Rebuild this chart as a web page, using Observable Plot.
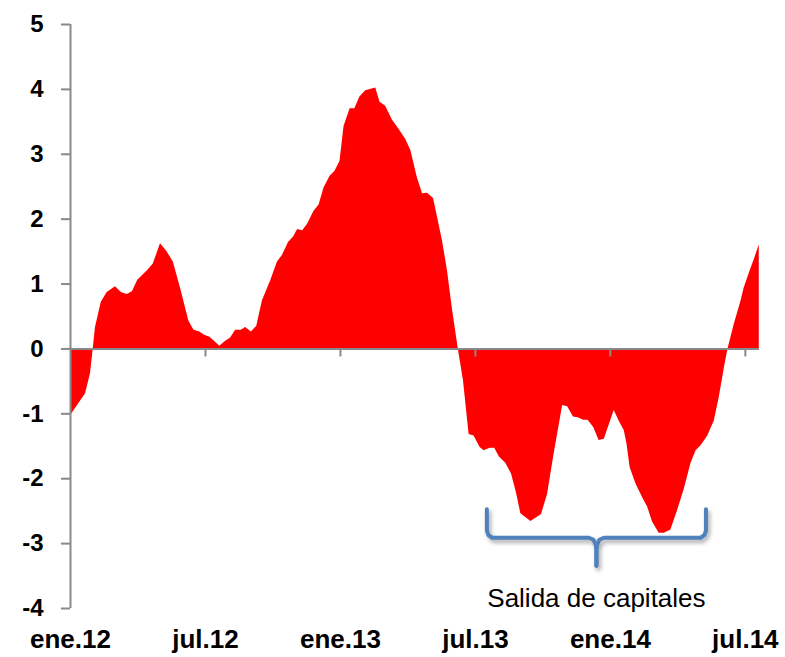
<!DOCTYPE html>
<html>
<head>
<meta charset="utf-8">
<script src="https://cdn.jsdelivr.net/npm/d3@7"></script>
<script src="https://cdn.jsdelivr.net/npm/@observablehq/plot@0.6"></script>
<style>
  html, body { margin: 0; padding: 0; background: #ffffff; }
  #chart { width: 785px; height: 657px; }
</style>
</head>
<body>
<div id="chart"></div>
<script>
// Meses desde ene.12
const meses = [0, 0.67, 0.89, 1.01, 1.11, 1.37, 1.63, 2.00, 2.26, 2.52, 2.75, 2.99, 3.41, 3.68, 4.00, 4.27, 4.57, 4.89, 5.26, 5.49, 5.75, 5.96, 6.20, 6.64, 6.90, 7.12, 7.34, 7.59, 7.79, 8.04, 8.28, 8.53, 8.90, 9.20, 9.42, 9.69, 9.91, 10.10, 10.32, 10.54, 10.82, 11.05, 11.27, 11.54, 11.76, 11.98, 12.16, 12.43, 12.64, 12.86, 13.12, 13.57, 13.76, 14.01, 14.31, 14.61, 14.90, 15.13, 15.42, 15.65, 15.87, 16.14, 16.54, 16.76, 16.98, 17.24, 17.47, 17.72, 17.94, 18.21, 18.39, 18.65, 18.86, 19.06, 19.35, 19.61, 19.84, 20.02, 20.47, 20.94, 21.21, 21.50, 21.88, 22.10, 22.36, 22.57, 22.81, 23.01, 23.26, 23.50, 23.73, 23.88, 24.17, 24.39, 24.62, 24.74, 24.88, 25.14, 25.43, 25.66, 25.88, 26.17, 26.40, 26.69, 26.99, 27.29, 27.58, 27.81, 28.03, 28.33, 28.62, 28.84, 29.07, 29.23, 29.51, 29.81, 29.95, 30.18, 30.40, 30.62];
const valores = [-1.03, -0.69, -0.38, 0.00, 0.33, 0.72, 0.87, 0.96, 0.87, 0.84, 0.88, 1.06, 1.20, 1.31, 1.62, 1.51, 1.34, 0.94, 0.43, 0.29, 0.26, 0.21, 0.18, 0.04, 0.12, 0.17, 0.29, 0.29, 0.33, 0.26, 0.35, 0.74, 1.05, 1.34, 1.44, 1.64, 1.72, 1.84, 1.82, 1.92, 2.12, 2.22, 2.48, 2.66, 2.74, 2.89, 3.43, 3.70, 3.70, 3.88, 3.98, 4.02, 3.80, 3.74, 3.53, 3.38, 3.23, 3.06, 2.64, 2.39, 2.40, 2.32, 1.66, 1.20, 0.61, 0.00, -0.49, -1.32, -1.34, -1.52, -1.57, -1.53, -1.53, -1.66, -1.76, -1.93, -2.24, -2.54, -2.66, -2.55, -2.24, -1.62, -0.87, -0.89, -1.05, -1.06, -1.10, -1.10, -1.21, -1.41, -1.39, -1.24, -0.95, -1.11, -1.26, -1.47, -1.83, -2.08, -2.29, -2.44, -2.67, -2.84, -2.84, -2.79, -2.49, -2.16, -1.77, -1.57, -1.49, -1.34, -1.11, -0.75, -0.29, 0.00, 0.38, 0.74, 0.94, 1.17, 1.38, 1.60];

const ticksMes = [0, 6, 12, 18, 24, 30];
const etiquetasMes = ["ene.12", "jul.12", "ene.13", "jul.13", "ene.14", "jul.14"];
const ticksY = [-4, -3, -2, -1, 0, 1, 2, 3, 4, 5];
const dominioX = [0, 30.63];
const dominioY = [-4, 5];

// Llave de anotación (en unidades de datos)
const llaveMes = [18.51, 18.51, 18.58, 18.75, 23.05, 23.25, 23.36, 23.38, 23.38];
const llaveValor = [-2.47, -2.80, -2.87, -2.91, -2.91, -2.94, -3.03, -3.12, -3.34];
const llaveCentro = 23.38;
const textoAnotacion = "Salida de capitales";
const anotacionValor = -3.85;

const datos = meses.map((m, i) => ({mes: m, valor: valores[i]}));
const llave = [
  ...llaveMes.map((m, i) => ({m, v: llaveValor[i], lado: "izq"})),
  ...llaveMes.map((m, i) => ({m: 2 * llaveCentro - m, v: llaveValor[i], lado: "der"}))
];
const anotacion = [{m: llaveCentro, v: anotacionValor, texto: textoAnotacion}];

const gris = "#898989";
const chart = Plot.plot({
  width: 785,
  height: 657,
  marginLeft: 70,
  marginRight: 26,
  marginTop: 24,
  marginBottom: 49,
  x: {domain: dominioX},
  y: {domain: dominioY},
  style: {fontFamily: "'Liberation Sans', Arial, sans-serif", background: "#ffffff", color: "#000000"},
  marks: [
    Plot.areaY(datos, {x: "mes", y: "valor", fill: "#ff0000"}),
    Plot.ruleY([0], {stroke: gris, strokeWidth: 2}),
    Plot.ruleX(ticksMes.slice(1), {x: d => d, y1: 0, y2: 0, insetBottom: -8, stroke: gris, strokeWidth: 2}),
    Plot.ruleX([0], {stroke: gris, strokeWidth: 2}),
    Plot.axisY({ticks: ticksY, tickSize: 9, tickPadding: 18, tickFormat: d => String(d), stroke: gris, strokeWidth: 2, fill: "#000000", fontSize: 24, fontWeight: "bold", label: null}),
    Plot.axisX({ticks: ticksMes, tickSize: 0, tickPadding: 21, tickFormat: d => etiquetasMes[ticksMes.indexOf(d)], fill: "#000000", fontSize: 26, fontWeight: "bold", label: null}),
    Plot.line(llave, {x: "m", y: "v", z: "lado", stroke: "#4F81BD", strokeWidth: 4, strokeLinejoin: "round", strokeLinecap: "round"}),
    Plot.text(anotacion, {x: "m", y: "v", text: "texto", fontSize: 26, fill: "#000000"})
  ]
});
d3.select(chart).selectAll('g[aria-label="line"]').style("filter", "drop-shadow(2px 3px 2px rgba(0,0,0,0.35))");
document.getElementById("chart").appendChild(chart);
</script>
</body>
</html>
